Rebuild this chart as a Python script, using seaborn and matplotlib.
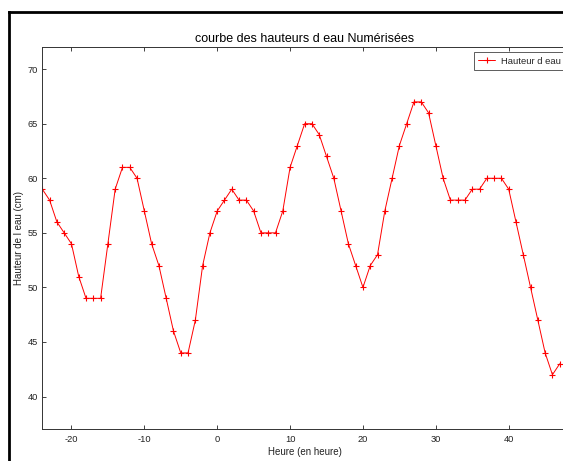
import matplotlib
matplotlib.use("Agg")
import matplotlib.pyplot as plt
from matplotlib.lines import Line2D
import seaborn as sns

# Heures (en heure) et hauteurs d'eau numerisees (cm)
heures = list(range(-24, 48))
hauteurs = [59, 58, 56, 55, 54, 51, 49, 49, 49, 54, 59, 61, 61, 60, 57, 54, 52, 49,
            46, 44, 44, 47, 52, 55, 57, 58, 59, 58, 58, 57, 55, 55, 55, 57, 61, 63,
            65, 65, 64, 62, 60, 57, 54, 52, 50, 52, 53, 57, 60, 63, 65, 67, 67, 66,
            63, 60, 58, 58, 58, 59, 59, 60, 60, 60, 59, 56, 53, 50, 47, 44, 42, 43]
x_ticks = [-20, -10, 0, 10, 20, 30, 40]
y_ticks = [40, 45, 50, 55, 60, 65, 70]

sns.set_theme(style="ticks")
plt.rcParams["font.family"] = ["Liberation Sans", "DejaVu Sans"]
plt.rcParams["axes.unicode_minus"] = False

W, H = 563, 461
fig = plt.figure(figsize=(W / 100, H / 100), dpi=100)
fig.patch.set_facecolor("white")

# axes box in pixels: left 42.3, right 567, top 47.3, bottom 429.3
ax = fig.add_axes([42.3 / W, (H - 429.3) / H, (567 - 42.3) / W, (429.3 - 47.3) / H])
ax.set_facecolor("white")

sns.lineplot(x=heures, y=hauteurs, color="#ff0000", marker="+", markersize=5,
             markeredgewidth=0.8, markeredgecolor="#ff0000", linewidth=0.7,
             label="Hauteur d eau", ax=ax)

ax.set_xlim(-24, 48)
ax.set_ylim(37, 72)
ax.set_xticks(x_ticks)
ax.set_yticks(y_ticks)
ax.tick_params(direction="in", length=3.1, width=0.6, colors="#222222",
               labelsize=6.7, top=True, right=True, pad=3)
ax.tick_params(axis="x", pad=4)
for s in ax.spines.values():
    s.set_visible(True)
    s.set_linewidth(0.7)
    s.set_color("#333333")

ax.set_title("courbe des hauteurs d eau Numérisées", fontsize=9, pad=4, color="black")
ax.set_xlabel("Heure (en heure)", fontsize=7, labelpad=2, color="#222222")
ax.set_ylabel("Hauteur de l eau (cm)", fontsize=7, labelpad=3, color="#222222")

leg = ax.legend(loc="upper right", bbox_to_anchor=(0.996, 0.987), borderaxespad=0,
                fontsize=6.8, frameon=True, fancybox=False, borderpad=0.45,
                handlelength=1.8, handletextpad=0.6)
leg.get_frame().set_edgecolor("#333333")
leg.get_frame().set_linewidth(0.7)

# black window frame (left and top)
fx = 8.7 / W
fy = 1 - 12.3 / H
fig.add_artist(Line2D([fx, fx], [-0.05, fy], transform=fig.transFigure,
                      color="black", linewidth=2.0, solid_capstyle="projecting"))
fig.add_artist(Line2D([fx, 1.05], [fy, fy], transform=fig.transFigure,
                      color="black", linewidth=2.0, solid_capstyle="projecting"))

fig.savefig("out.png", dpi=100, facecolor="white")
